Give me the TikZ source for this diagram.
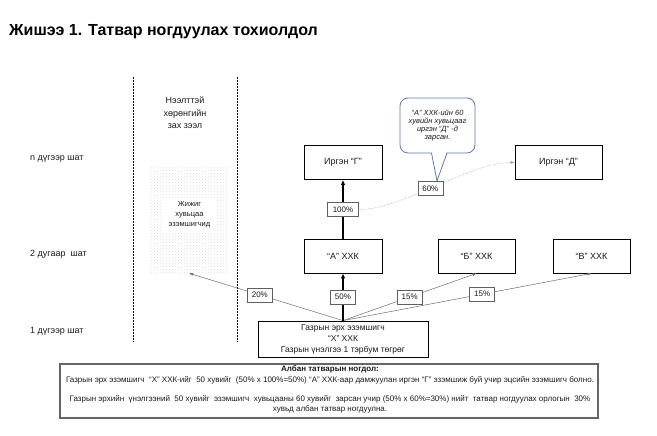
\documentclass[tikz,border=0pt]{standalone}
\usepackage{fontspec}
\setmainfont{Liberation Sans}
\usetikzlibrary{arrows.meta,patterns}
\definecolor{calloutblue}{HTML}{5B7BB0}
\definecolor{txt}{HTML}{1A1A1A}
\begin{document}
\begin{tikzpicture}[x=1pt,y=-1pt,
  box/.style={draw=black, line width=0.8pt, fill=white, minimum width=78pt, minimum height=34pt, font=\fontsize{9}{10}\selectfont, text=txt, inner sep=0pt},
  pct/.style={draw=gray!75!black, line width=0.6pt, fill=white, font=\fontsize{8}{9}\selectfont, text=txt, minimum width=25pt, minimum height=14pt, inner sep=1pt},
  thinarrow/.style={draw=gray!85!black, line width=0.5pt, -{Latex[length=4pt,width=3pt]}},
  thickarrow/.style={line width=1.6pt, -{Latex[length=5pt,width=4.5pt]}},
  lbl/.style={font=\fontsize{9}{10}\selectfont, text=txt},
  vdash/.style={line width=0.6pt, dash pattern=on 2pt off 1pt},
  notetext/.style={font=\fontsize{8}{9}\selectfont, text=txt, inner sep=0pt},
]
\useasboundingbox (0,0) rectangle (657,436);

% title
\node[anchor=west, font=\fontsize{16}{18}\selectfont\bfseries, inner sep=0pt] (title) at (9,32) {Жишээ 1. Татвар ногдуулах тохиолдол};

% level labels
\node[lbl, anchor=west, inner sep=0pt] (ln) at (30,159) {n дүгээр шат};
\node[lbl, anchor=west, inner sep=0pt] (l2) at (30,254) {2 дугаар\ \ шат};
\node[lbl, anchor=west, inner sep=0pt] (l1) at (30,331) {1 дүгээр шат};

% market column
\draw[vdash] (133,77) -- (133,342);
\draw[vdash] (237,77) -- (237,342);
\node[lbl, align=center, font=\fontsize{9}{12.5}\selectfont] (mkt) at (185,113) {Нээлттэй\\хөрөнгийн\\зах зээл};
\node[pattern=crosshatch dots, pattern color=gray!22, minimum width=78pt, minimum height=105pt, inner sep=0pt] (SH) at (189,220.5) {};
\node[fill=white, minimum width=55pt, minimum height=34pt, inner sep=0pt, align=center, font=\fontsize{7.5}{10}\selectfont, text=txt] (SHt) at (189.5,215) {Жижиг\\хувьцаа\\эзэмшигчид};

% boxes
\node[box] (G) at (343,162.5) {Иргэн “Г”};
\node[box, minimum width=87pt] (D) at (558.5,162.5) {Иргэн “Д”};
\node[box] (A) at (343,256) {“А” ХХК};
\node[box, minimum width=77pt] (B) at (476.5,256) {“Б” ХХК};
\node[box, minimum width=77pt] (V) at (591.5,256) {“В” ХХК};
\node[box, minimum width=170pt, minimum height=36pt, align=center, font=\fontsize{8.5}{11}\selectfont] (X) at (343,339) {Газрын эрх эзэмшигч\\“Х” ХХК\\Газрын үнэлгээ 1 тэрбум төгрөг};

% connectors
\draw[thinarrow] (X.north) -- node[pct, pos=0.54] (p20) {20\%} (SH.south);
\draw[thinarrow] (X.north) -- node[pct, pos=0.5] (p15a) {15\%} (B.south);
\draw[thinarrow] (X.north) -- node[pct, pos=0.56] (p15b) {15\%} (V.south);
\draw[thickarrow] (X.north) -- node[pct] (p50) {50\%} (A.south);
\draw[thickarrow] (A.north) -- node[pct, minimum width=31pt] (p100) {100\%} (G.south);
\draw[gray!80, line width=0.5pt, densely dotted, -{Latex[length=4pt,width=3pt]}] (p100.east) .. controls (400,211) and (470,162) .. (D.west) node[pct, pos=0.47, solid] (p60) {60\%};

% callout
\draw[calloutblue, line width=0.8pt, fill=white, rounded corners=8pt] (400,98) rectangle (475,153);
\fill[white] (431.5,151) -- (446.5,151) -- (437,180) -- cycle;
\draw[calloutblue, line width=0.8pt, line join=miter] (431.5,153) -- (437,181) -- (447,153);
\node[align=center, font=\fontsize{7.5}{8}\selectfont\itshape, text=txt] (ctext) at (437.5,126) {“А” ХХК-ийн 60\\хувийн хувьцааг\\иргэн “Д” -д\\зарсан.};

% note
\node[draw=gray!80!black, line width=1.2pt, minimum width=538pt, minimum height=54pt, inner sep=0pt] (note) at (329,391) {};
\node[notetext, font=\fontsize{8}{9}\selectfont\bfseries] (nt) at (330,369.5) {Албан татварын ногдол:};
\node[notetext] (n1) at (330,380) {Газрын эрх эзэмшигч\ \ “Х” ХХК-ийг\ \ 50 хувийг\ \ (50\% x 100\%=50\%) “А” ХХК-аар дамжуулан иргэн “Г” эзэмшиж буй учир эцсийн эзэмшигч болно.};
\node[notetext] (n2) at (330,399) {Газрын эрхийн\ \ үнэлгээний\ \ 50 хувийг\ \ эзэмшигч\ \ хувьцааны 60 хувийг\ \ зарсан учир (50\% x 60\%=30\%) нийт\ \ татвар ногдуулах орлогын\ \ 30\%};
\node[notetext] (n3) at (330,409.5) {хувьд албан татвар ногдуулна.};
\end{tikzpicture}
\end{document}
